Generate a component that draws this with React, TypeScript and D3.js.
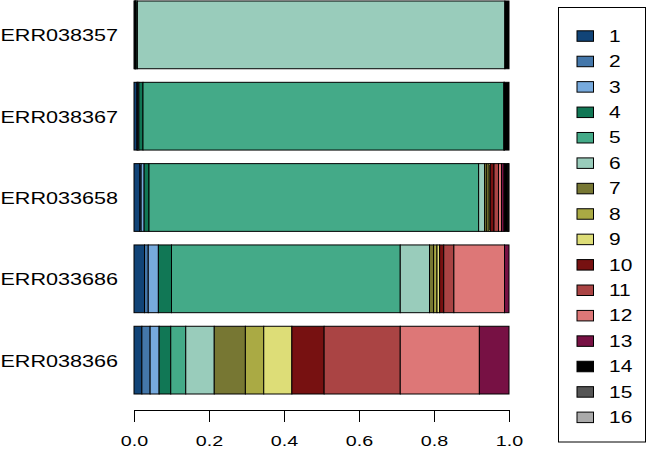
import React, { useEffect, useRef } from 'react';
import * as d3 from 'd3';

// samples, top to bottom as drawn
const samples = ['ERR038357', 'ERR038367', 'ERR033658', 'ERR033686', 'ERR038366'];
const groups = ['1', '2', '3', '4', '5', '6', '7', '8', '9', '10', '11', '12', '13', '14', '15', '16'];
const colors = [
  '#114477', '#4477AA', '#77AADD', '#117755', '#44AA88', '#99CCBB',
  '#777733', '#AAAA44', '#DDDD77', '#771111', '#AA4444', '#DD7777',
  '#771144', '#000000', '#555555', '#AAAAAA'
];

// proportion of each group per sample (groups 1..16)
const err038357 = [0.002, 0.001, 0.001, 0.002, 0.003, 0.98, 0, 0, 0, 0, 0, 0, 0, 0.011, 0, 0];
const err038367 = [0.008, 0.002, 0.003, 0.011, 0.962, 0.002, 0, 0, 0, 0, 0, 0, 0, 0.012, 0, 0];
const err033658 = [0.016, 0.003, 0.008, 0.013, 0.879, 0.016, 0.006, 0.006, 0.003, 0.01, 0.012, 0.008, 0.007, 0.01, 0.002, 0.001];
const err033686 = [0.028, 0.01, 0.027, 0.035, 0.61, 0.078, 0.011, 0.009, 0.007, 0.011, 0.027, 0.135, 0.012, 0, 0, 0];
const err038366 = [0.021, 0.022, 0.024, 0.031, 0.04, 0.076, 0.083, 0.049, 0.075, 0.086, 0.203, 0.211, 0.079, 0, 0, 0];

const xTicks = [0, 0.2, 0.4, 0.6, 0.8, 1.0];

const W = 648, H = 452;
const FONT = '"Liberation Sans", Arial, Helvetica, sans-serif';
const STRETCH = 1.27;

export default function App() {
  const axisRef = useRef<SVGGElement>(null);

  const rows = [err038357, err038367, err033658, err033686, err038366].map((vals, i) => {
    const row: any = { sample: samples[i] };
    groups.forEach((g, j) => { row[g] = vals[j]; });
    return row;
  });
  const series = d3.stack().keys(groups)(rows);

  const x = d3.scaleLinear().domain([0, 1]).range([134, 509]);
  const y = d3.scaleBand<string>().domain(samples).range([1, 394]).paddingInner(0.167).paddingOuter(0);
  const color = d3.scaleOrdinal<string, string>().domain(groups).range(colors);
  const legendY = d3.scalePoint<string>().domain(groups).range([36, 417.3]);

  useEffect(() => {
    const g = d3.select(axisRef.current);
    g.selectAll('*').remove();
    const axis = d3.axisBottom(x).tickValues(xTicks).tickSize(12).tickSizeOuter(0)
      .tickFormat(d3.format('.1f') as any);
    g.call(axis as any);
    g.select('.domain').attr('stroke', '#000');
    g.selectAll('.tick line').attr('stroke', '#000');
    g.selectAll('.tick text')
      .attr('y', 36.5)
      .attr('dy', null)
      .attr('font-size', 15.5)
      .attr('font-family', FONT)
      .attr('fill', '#000')
      .attr('transform', `scale(${STRETCH},1)`);
  }, []);

  return (
    <svg width={W} height={H} style={{ position: 'absolute', left: 0, top: 0, background: '#fff' }}>
      {series.map((s) => (
        <g key={s.key} fill={color(s.key)}>
          {s.map((d: any) => (
            <rect
              key={d.data.sample}
              x={x(d[0])}
              y={y(d.data.sample)}
              width={Math.max(0, x(d[1]) - x(d[0]))}
              height={y.bandwidth()}
              stroke="#000"
              strokeWidth={1}
            />
          ))}
        </g>
      ))}

      {samples.map((s) => (
        <text
          key={s}
          transform={`translate(118,${(y(s) as number) + y.bandwidth() / 2 + 6.5}) scale(${STRETCH},1)`}
          textAnchor="end"
          fontFamily={FONT}
          fontSize={17}
        >
          {s}
        </text>
      ))}

      <g ref={axisRef} transform="translate(0,410)" />

      <rect x={558.5} y={7.5} width={87} height={434.5} fill="none" stroke="#000" strokeWidth={1} />
      {groups.map((g) => (
        <g key={g}>
          <rect
            x={577}
            y={(legendY(g) as number) - 5.2}
            width={16.5}
            height={10.5}
            fill={color(g)}
            stroke="#000"
            strokeWidth={1}
          />
          <text
            transform={`translate(609,${(legendY(g) as number) + 5.8}) scale(${STRETCH},1)`}
            fontFamily={FONT}
            fontSize={16.5}
          >
            {g}
          </text>
        </g>
      ))}
    </svg>
  );
}
